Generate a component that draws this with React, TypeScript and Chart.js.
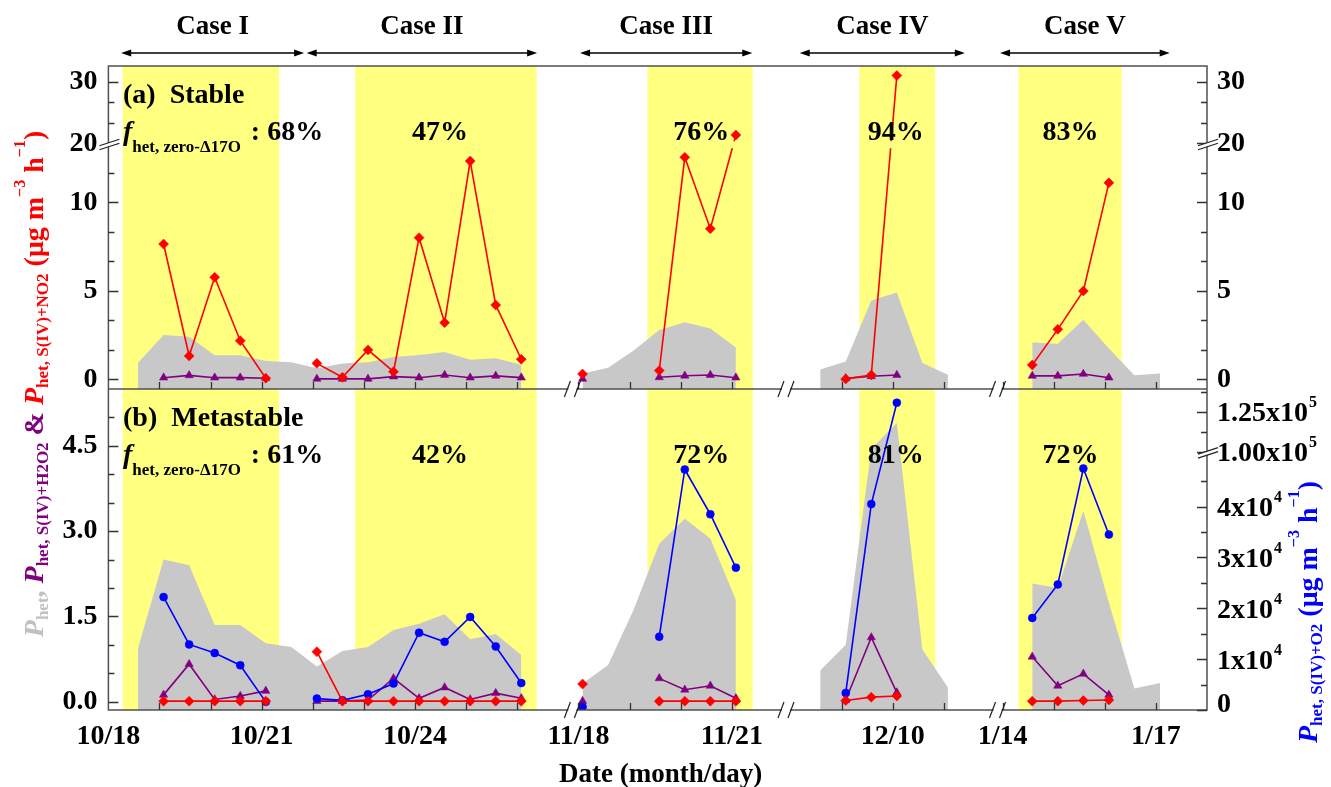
import { useEffect, useRef } from "react";
import { Chart, registerables } from "chart.js";

Chart.register(...registerables);

const W = 1331;
const H = 787;

// ---------------- broken date axis ----------------
const axisSegments = [
  { month: 10, firstDay: 18, start: 0 },
  { month: 11, firstDay: 18, start: 9.2 },
  { month: 12, firstDay: 8, start: 13.35 },
  { month: 1, firstDay: 14, start: 17.5 },
];
const axisEnd = 21.5;
const xBreakDates = ["10/27.1", "11/22.08", "12/12.07"];
const xTickLabels = ["10/18", "10/21", "10/24", "11/18", "11/21", "12/10", "1/14", "1/17"];
const xDayTicks = [
  "10/19", "10/20", "10/21", "10/22", "10/23", "10/24", "10/25", "10/26",
  "11/18", "11/19", "11/20", "11/21", "12/9", "12/10", "12/11", "1/14", "1/15", "1/16", "1/17",
];

function toU(t: string): number {
  const [m, d] = t.split("/");
  const seg = axisSegments.find((s) => s.month === Number(m))!;
  return seg.start + Number(d) - seg.firstDay;
}

// ---------------- cases ----------------
const caseNames = ["Case I", "Case II", "Case III", "Case IV", "Case V"];
const caseArrows = [
  ["10/18.25", "10/21.83"],
  ["10/21.88", "10/26.39"],
  ["11/18.03", "11/21.4"],
  ["12/8.18", "12/11.41"],
  ["1/13.95", "1/17.27"],
];
const highlightSpans = [
  ["10/18.28", "10/21.34"],
  ["10/22.83", "10/26.38"],
  ["11/19.35", "11/21.41"],
  ["12/9.345", "12/10.83"],
  ["1/14.31", "1/16.33"],
];
const fStable = ["68%", "47%", "76%", "94%", "83%"];
const fMeta = ["61%", "42%", "72%", "81%", "72%"];
const fLabelDates = ["", "10/24.49", "11/20.4", "12/10.06", "1/15.33"];

// ---------------- samples ----------------
const sampleTimes = [
  "10/18.58", "10/19.08", "10/19.58", "10/20.08", "10/20.58", "10/21.08", "10/21.58", "10/22.08",
  "10/22.58", "10/23.08", "10/23.58", "10/24.08", "10/24.58", "10/25.08", "10/25.58", "10/26.08",
  "11/18.08", "11/18.58", "11/19.08", "11/19.58", "11/20.08", "11/20.58", "11/21.08",
  "12/8.58", "12/9.08", "12/9.58", "12/10.08", "12/10.58", "12/11.08",
  "1/14.58", "1/15.08", "1/15.58", "1/16.08", "1/16.58", "1/17.08",
];
// total P_het (grey area)
const pHet = [
  0.94, 2.5, 2.4, 1.35, 1.35, 1.03, 0.96, 0.62, 0.89, 0.96, 1.26, 1.37, 1.54, 1.1, 1.19, 0.82,
  0.32, 0.645, 1.62, 2.78, 3.22, 2.87, 1.79,
  0.55, 1.0, 4.45, 4.9, 0.92, 0.25,
  2.08, 2.0, 3.36, 1.74, 0.23, 0.33,
];
// (a) stable
const pNO2Stable = [
  null, 7.64, 1.32, 5.76, 2.18, 0.06, null, 0.9, 0.11, 1.66, 0.43, 8.0, 3.2, 12.33, 4.2, 1.13,
  0.3, null, null, 0.49, 12.54, 8.51, 21.35,
  null, 0.02, 0.24, 31.0, null, null,
  0.81, 2.82, 4.99, 11.1, null, null,
];
const pH2O2Stable = [
  null, 0.09, 0.22, 0.09, 0.09, 0.06, null, 0.02, 0.02, 0.02, 0.15, 0.09, 0.24, 0.09, 0.19, 0.09,
  0.02, null, null, 0.11, 0.2, 0.24, 0.09,
  null, 0.05, 0.17, 0.24, null, null,
  0.19, 0.19, 0.3, 0.09, null, null,
];
// (b) metastable
const pNO2Meta = [
  null, 0.01, 0.01, 0.01, 0.01, 0.01, null, 0.88, 0.01, 0.01, 0.01, 0.01, 0.01, 0.01, 0.01, 0.01,
  0.31, null, null, 0.01, 0.01, 0.01, 0.01,
  null, 0.02, 0.08, 0.1, null, null,
  0.01, 0.01, 0.02, 0.03, null, null,
];
const pH2O2Meta = [
  null, 0.12, 0.66, 0.04, 0.1, 0.19, null, 0.01, 0.01, 0.03, 0.41, 0.06, 0.25, 0.04, 0.15, 0.06,
  0.01, null, null, 0.41, 0.21, 0.28, 0.06,
  null, 0.03, 1.13, 0.16, null, null,
  0.79, 0.28, 0.49, 0.12, null, null,
];
const pO2Meta = [
  null, 22200, 12900, 11200, 8800, 1600, null, 2240, 1900, 3090, 5200, 15200, 13400, 18300, 12500, 5300,
  590, null, null, 14400, 47300, 38500, 28000,
  null, 3350, 40500, 130600, null, null,
  18100, 24700, 47500, 34500, null, null,
];

// ---------------- y axes (with breaks) ----------------
const stableBreak = { lowTop: 13.333, highStart: 20, highScale: 0.348 };
const o2Break = { lowTop: 50800, highStart: 100000, highScale: 0.315 };
const mkBreak = (b: any) => (v: number) => (v <= b.lowTop ? v : b.lowTop + (v - b.highStart) * b.highScale);
const dA = mkBreak(stableBreak);
const dO2 = mkBreak(o2Break);
const ident = (v: number) => v;

const stableTicks = [0, 5, 10, 20, 30];
const stableMinor = [5 / 3, 10 / 3, 20 / 3, 25 / 3, 35 / 3, 70 / 3, 80 / 3];
const metaTicks = [0, 1.5, 3, 4.5];
const metaTickLabels = ["0.0", "1.5", "3.0", "4.5"];
const metaMinor = [0.5, 1, 2, 2.5, 3.5, 4, 5];
const o2Ticks = [0, 1e4, 2e4, 3e4, 4e4, 1e5, 1.25e5];
const o2TickMantissa = ["0", "1x10", "2x10", "3x10", "4x10", "1.00x10", "1.25x10"];
const o2TickExp = ["", "4", "4", "4", "4", "5", "5"];
const o2Minor = [5e3, 1.5e4, 2.5e4, 3.5e4, 4.5e4, 1.125e5, 1.375e5];

// ---------------- styling ----------------
const FAM = '"Liberation Serif", "Times New Roman", serif';
const GREY_T = "#c0c0c0";
const PURPLE = "#800080";
const RED = "#ff0000";
const BLUE = "#0000ff";
const fnt = (size: number, italic = false) => `${italic ? "italic " : ""}bold ${size}px ${FAM}`;

type Seg = { t: string; size: number; italic?: boolean; dy?: number; color?: string };
function richWidth(ctx: CanvasRenderingContext2D, segs: Seg[]) {
  let w = 0;
  for (const s of segs) {
    ctx.font = fnt(s.size, s.italic);
    w += ctx.measureText(s.t).width;
  }
  return w;
}
function drawRich(ctx: CanvasRenderingContext2D, segs: Seg[], x: number, y: number) {
  let cx = x;
  for (const s of segs) {
    ctx.font = fnt(s.size, s.italic);
    ctx.fillStyle = s.color || "#000";
    ctx.fillText(s.t, cx, y + (s.dy || 0));
    cx += ctx.measureText(s.t).width;
  }
  return cx;
}

function buildPoints(values: (number | null)[], tf: (v: number) => number) {
  const pts: any[] = [];
  let prev: string | null = null;
  sampleTimes.forEach((t, i) => {
    const m = t.split("/")[0];
    const u = toU(t);
    if (prev !== null && m !== prev) pts.push({ x: (pts[pts.length - 1].x + u) / 2, y: null });
    prev = m;
    const v = values[i];
    pts.push({ x: u, y: v == null ? null : tf(v) });
  });
  return pts;
}

function yBreakMark(ctx: CanvasRenderingContext2D, x: number, y: number) {
  ctx.save();
  ctx.fillStyle = "#fff";
  ctx.beginPath();
  ctx.moveTo(x - 9, y + 2.5);
  ctx.lineTo(x + 11, y - 4);
  ctx.lineTo(x + 11, y);
  ctx.lineTo(x - 9, y + 6.5);
  ctx.closePath();
  ctx.fill();
  ctx.strokeStyle = "#222";
  ctx.lineWidth = 1.2;
  ctx.beginPath();
  ctx.moveTo(x - 9, y + 2.5);
  ctx.lineTo(x + 11, y - 4);
  ctx.moveTo(x - 9, y + 6.5);
  ctx.lineTo(x + 11, y);
  ctx.stroke();
  ctx.restore();
}
function xBreakMark(ctx: CanvasRenderingContext2D, x: number, y: number) {
  ctx.save();
  ctx.fillStyle = "#fff";
  ctx.fillRect(x - 5, y - 2, 8, 4);
  ctx.strokeStyle = "#222";
  ctx.lineWidth = 1.2;
  ctx.beginPath();
  ctx.moveTo(x - 9, y + 8);
  ctx.lineTo(x - 3, y - 8);
  ctx.moveTo(x + 1, y + 8);
  ctx.lineTo(x + 7, y - 8);
  ctx.stroke();
  ctx.restore();
}
function dblArrow(ctx: CanvasRenderingContext2D, x1: number, x2: number, y: number) {
  ctx.save();
  ctx.strokeStyle = "#000";
  ctx.fillStyle = "#000";
  ctx.lineWidth = 1.5;
  ctx.beginPath();
  ctx.moveTo(x1 + 4, y);
  ctx.lineTo(x2 - 4, y);
  ctx.stroke();
  const head = (tip: number, dir: number) => {
    ctx.beginPath();
    ctx.moveTo(tip, y);
    ctx.lineTo(tip + dir * 10, y - 3.5);
    ctx.lineTo(tip + dir * 10, y + 3.5);
    ctx.closePath();
    ctx.fill();
  };
  head(x1, 1);
  head(x2, -1);
  ctx.restore();
}

const decoPlugin = {
  id: "deco",
  beforeDatasetsDraw(chart: any) {
    const { ctx, chartArea: a, scales } = chart;
    ctx.save();
    ctx.fillStyle = "#ffff80";
    for (const [s, e] of highlightSpans) {
      const x1 = scales.x.getPixelForValue(toU(s));
      const x2 = scales.x.getPixelForValue(toU(e));
      ctx.fillRect(x1, a.top, x2 - x1, a.bottom - a.top);
    }
    ctx.restore();
  },
  beforeDatasetDraw(chart: any, args: any) {
    const ds = chart.data.datasets[args.index];
    if (!ds.breakGap) return;
    const ctx = chart.ctx;
    const y = chart.scales.yA.getPixelForValue(stableBreak.lowTop);
    ctx.save();
    ctx.beginPath();
    ctx.rect(0, 0, W, y - 2);
    ctx.rect(0, y + 5, W, H - y - 5);
    ctx.clip();
  },
  afterDatasetDraw(chart: any, args: any) {
    const ds = chart.data.datasets[args.index];
    if (ds.breakGap) chart.ctx.restore();
  },
  afterDraw(chart: any) {
    const { ctx, chartArea: a, scales } = chart;
    const { x, yA, yB, yBR } = scales;
    const mid = yA.bottom;
    ctx.save();
    // frame
    ctx.strokeStyle = "#505050";
    ctx.lineWidth = 1.5;
    ctx.strokeRect(a.left, a.top, a.right - a.left, a.bottom - a.top);
    ctx.beginPath();
    ctx.moveTo(a.left, mid);
    ctx.lineTo(a.right, mid);
    ctx.stroke();

    // inward tick marks
    ctx.strokeStyle = "#333";
    ctx.lineWidth = 1.3;
    const yt = (sc: any, vals: number[], tf: (v: number) => number, len: number, left: boolean, right: boolean) => {
      ctx.beginPath();
      for (const v of vals) {
        const py = Math.round(sc.getPixelForValue(tf(v))) + 0.5;
        if (left) { ctx.moveTo(a.left, py); ctx.lineTo(a.left + len, py); }
        if (right) { ctx.moveTo(a.right, py); ctx.lineTo(a.right - len, py); }
      }
      ctx.stroke();
    };
    yt(yA, stableTicks, dA, 10, true, true);
    yt(yA, stableMinor, dA, 6, true, true);
    yt(yB, metaTicks, ident, 10, true, false);
    yt(yB, metaMinor, ident, 6, true, false);
    yt(yBR, o2Ticks, dO2, 10, false, true);
    yt(yBR, o2Minor, dO2, 6, false, true);
    ctx.beginPath();
    for (const d of xDayTicks) {
      const px = Math.round(x.getPixelForValue(toU(d))) + 0.5;
      ctx.moveTo(px, mid);
      ctx.lineTo(px, mid - 7);
      ctx.moveTo(px, a.bottom);
      ctx.lineTo(px, a.bottom - 7);
    }
    ctx.stroke();

    // break marks
    const yb = yA.getPixelForValue(stableBreak.lowTop);
    yBreakMark(ctx, a.left, yb);
    yBreakMark(ctx, a.right, yb);
    yBreakMark(ctx, a.right, yBR.getPixelForValue(o2Break.lowTop));
    for (const d of xBreakDates) {
      const px = x.getPixelForValue(toU(d));
      xBreakMark(ctx, px, mid);
      xBreakMark(ctx, px, a.bottom);
    }

    // right axis labels of panel (b) with exponents
    ctx.textAlign = "left";
    ctx.textBaseline = "alphabetic";
    ctx.fillStyle = "#000";
    o2Ticks.forEach((v, i) => {
      const py = Math.min(yBR.getPixelForValue(dO2(v)), a.bottom - 8);
      const x0 = a.right + 10;
      ctx.font = fnt(28);
      ctx.fillText(o2TickMantissa[i], x0, py + 9.5);
      const w = ctx.measureText(o2TickMantissa[i]).width;
      ctx.font = fnt(16);
      ctx.fillText(o2TickExp[i], x0 + w + 1, py - 4.5);
    });

    // case arrows + labels
    caseArrows.forEach(([s, e], i) => {
      const x1 = x.getPixelForValue(toU(s));
      const x2 = x.getPixelForValue(toU(e));
      dblArrow(ctx, x1, x2, 53);
      ctx.font = fnt(27);
      ctx.textAlign = "center";
      ctx.fillStyle = "#000";
      ctx.fillText(caseNames[i], (x1 + x2) / 2, 34);
    });

    // panel annotations
    const panel = (top: number, title: string, vals: string[]) => {
      ctx.textAlign = "left";
      ctx.fillStyle = "#000";
      ctx.font = fnt(28);
      ctx.fillText(title, a.left + 14.6, top + 37);
      const ex = drawRich(
        ctx,
        [
          { t: "f", size: 28, italic: true },
          { t: "het, zero-Δ17O", size: 17, dy: 12 },
        ],
        a.left + 14.6,
        top + 74
      );
      ctx.font = fnt(28);
      ctx.fillStyle = "#000";
      ctx.fillText(": " + vals[0], ex + 10, top + 74);
      ctx.textAlign = "center";
      for (let i = 1; i < vals.length; i++) {
        ctx.fillText(vals[i], x.getPixelForValue(toU(fLabelDates[i])), top + 74);
      }
    };
    panel(yA.top, "(a)  Stable", fStable);
    panel(yB.top, "(b)  Metastable", fMeta);

    // axis titles
    ctx.textAlign = "center";
    ctx.fillStyle = "#000";
    ctx.font = fnt(27);
    ctx.fillText("Date (month/day)", (a.left + a.right) / 2 + 3, 782);

    ctx.textAlign = "left";
    const leftTitle: Seg[] = [
      { t: "P", size: 28, italic: true, color: GREY_T },
      { t: "het", size: 17, dy: 5, color: GREY_T },
      { t: ", ", size: 28, color: GREY_T },
      { t: "P", size: 28, italic: true, color: PURPLE },
      { t: "het, S(IV)+H2O2", size: 17, dy: 5, color: PURPLE },
      { t: " & ", size: 28, color: PURPLE },
      { t: "P", size: 28, italic: true, color: RED },
      { t: "het, S(IV)+NO2", size: 17, dy: 5, color: RED },
      { t: " (μg m", size: 28, color: RED },
      { t: "−3", size: 16, dy: -18, color: RED },
      { t: " h", size: 28, color: RED },
      { t: "−1", size: 16, dy: -18, color: RED },
      { t: ")", size: 28, color: RED },
    ];
    ctx.save();
    ctx.translate(43, 384);
    ctx.rotate(-Math.PI / 2);
    drawRich(ctx, leftTitle, -richWidth(ctx, leftTitle) / 2, 0);
    ctx.restore();

    const rightTitle: Seg[] = [
      { t: "P", size: 28, italic: true, color: BLUE },
      { t: "het, S(IV)+O2", size: 17, dy: 5, color: BLUE },
      { t: " (μg m", size: 28, color: BLUE },
      { t: "−3", size: 16, dy: -18, color: BLUE },
      { t: " h", size: 28, color: BLUE },
      { t: "−1", size: 16, dy: -18, color: BLUE },
      { t: ")", size: 28, color: BLUE },
    ];
    ctx.save();
    ctx.translate(1317, 612);
    ctx.rotate(-Math.PI / 2);
    drawRich(ctx, rightTitle, -richWidth(ctx, rightTitle) / 2, 0);
    ctx.restore();

    ctx.restore();
  },
};

const tickFont = { family: FAM, size: 28, weight: "bold" as const };

export default function App() {
  const ref = useRef<HTMLCanvasElement>(null);

  useEffect(() => {
    const canvas = ref.current!;
    const lineDs = (data: any[], yAxisID: string, color: string, pointStyle: string, radius: number, extra: any = {}) => ({
      data,
      yAxisID,
      xAxisID: "x",
      borderColor: color,
      backgroundColor: color,
      borderWidth: 1.6,
      pointStyle,
      pointRadius: radius,
      pointBorderWidth: 0.5,
      pointBorderColor: color,
      pointBackgroundColor: color,
      spanGaps: false,
      fill: false,
      tension: 0,
      ...extra,
    });
    const greyDs = (data: any[], yAxisID: string) => ({
      data,
      yAxisID,
      xAxisID: "x",
      borderColor: "rgba(0,0,0,0)",
      borderWidth: 0,
      backgroundColor: "#c8c8c8",
      pointRadius: 0,
      fill: "start",
      spanGaps: false,
      tension: 0,
    });

    const datasets: any[] = [
      lineDs(buildPoints(pNO2Stable, dA), "yA", RED, "rectRot", 5, { breakGap: true }),
      lineDs(buildPoints(pH2O2Stable, dA), "yA", PURPLE, "triangle", 4.8, { breakGap: true }),
      greyDs(buildPoints(pHet, dA), "yA"),
      lineDs(buildPoints(pNO2Meta, ident), "yB", RED, "rectRot", 5),
      lineDs(buildPoints(pO2Meta, dO2), "yBR", BLUE, "circle", 4),
      lineDs(buildPoints(pH2O2Meta, ident), "yB", PURPLE, "triangle", 4.8),
      greyDs(buildPoints(pHet, ident), "yB"),
    ];

    const yCommon = {
      type: "linear",
      grid: { display: false, drawTicks: false },
      border: { display: false },
    };

    const chart = new Chart(canvas, {
      type: "line",
      data: { datasets },
      options: {
        animation: false,
        responsive: false,
        maintainAspectRatio: false,
        events: [],
        layout: { padding: { left: 0, right: 0, top: 66, bottom: 0 } },
        plugins: { legend: { display: false }, tooltip: { enabled: false } },
        scales: {
          x: {
            type: "linear",
            position: "bottom",
            min: 0,
            max: axisEnd,
            grid: { display: false, drawTicks: false },
            border: { display: false },
            afterBuildTicks: (s: any) => {
              s.ticks = xTickLabels.map((l) => ({ value: toU(l) }));
            },
            ticks: {
              autoSkip: false,
              maxRotation: 0,
              padding: 10,
              font: tickFont,
              color: "#000",
              callback: (_v: any, i: number) => xTickLabels[i],
            },
            afterFit: (s: any) => {
              s.height = 77;
            },
          },
          // left boxes are stacked in reverse order: the metastable axis is listed first
          yB: {
            ...yCommon,
            position: "left",
            stack: "left",
            stackWeight: 321,
            min: -0.146,
            max: 5.5,
            afterBuildTicks: (s: any) => {
              s.ticks = metaTicks.map((v) => ({ value: v }));
            },
            ticks: { autoSkip: false, padding: 11, font: tickFont, color: "#000", callback: (_v: any, i: number) => metaTickLabels[i] },
            afterFit: (s: any) => {
              s.width = 108.4;
            },
          },
          yA: {
            ...yCommon,
            position: "left",
            stack: "left",
            stackWeight: 323,
            min: -0.55,
            max: 17.7,
            afterBuildTicks: (s: any) => {
              s.ticks = stableTicks.map((v) => ({ value: dA(v) }));
            },
            ticks: { autoSkip: false, padding: 11, font: tickFont, color: "#000", callback: (_v: any, i: number) => String(stableTicks[i]) },
            afterFit: (s: any) => {
              s.width = 108.4;
            },
          },
          yAR: {
            ...yCommon,
            position: "right",
            stack: "right",
            stackWeight: 323,
            min: -0.55,
            max: 17.7,
            afterBuildTicks: (s: any) => {
              s.ticks = stableTicks.map((v) => ({ value: dA(v) }));
            },
            ticks: { autoSkip: false, padding: 10, font: tickFont, color: "#000", callback: (_v: any, i: number) => String(stableTicks[i]) },
            afterFit: (s: any) => {
              s.width = 124;
            },
          },
          yBR: {
            ...yCommon,
            position: "right",
            stack: "right",
            stackWeight: 321,
            min: 0,
            max: 63130,
            ticks: { display: false },
            afterFit: (s: any) => {
              s.width = 124;
            },
          },
        },
      } as any,
      plugins: [decoPlugin as any],
    });
    return () => chart.destroy();
  }, []);

  return (
    <div style={{ position: "absolute", left: 0, top: 0, width: W, height: H, background: "#fff" }}>
      <canvas ref={ref} width={W} height={H} style={{ display: "block", width: W, height: H }} />
    </div>
  );
}
